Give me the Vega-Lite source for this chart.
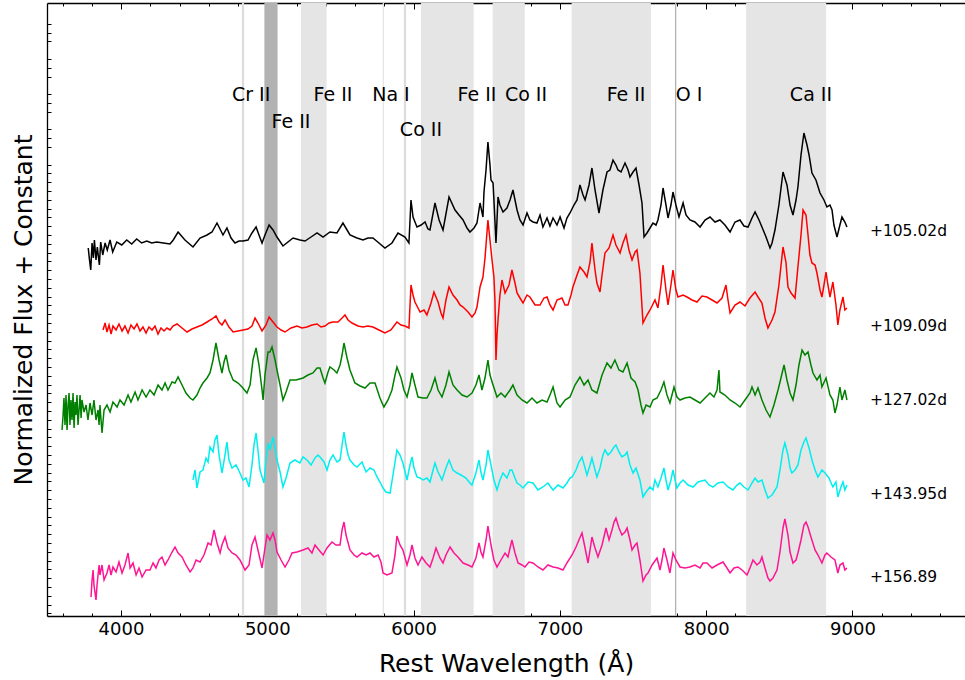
{
"$schema": "https://vega.github.io/schema/vega-lite/v6.json",
"width": 918, "height": 613,
"autosize": {"type": "none"},
"padding": {"left": 47, "top": 3, "right": 0, "bottom": 64},
"background": "white",
"config": {"view": {"stroke": null}, "font": "DejaVu Sans",
 "axis": {"grid": false, "domainColor": "#000", "tickColor": "#000", "labelColor": "#000", "titleColor": "#000", "labelFont": "DejaVu Sans", "titleFont": "DejaVu Sans", "titleFontWeight": "normal", "domainWidth": 1.3}},
"datasets": {
"black": [{"w":3776,"f":36.8},{"w":3783,"f":35.8},{"w":3793,"f":34.6},{"w":3802,"f":37.3},{"w":3811,"f":35.8},{"w":3818,"f":37.6},{"w":3829,"f":35.6},{"w":3838,"f":36.9},{"w":3852,"f":35.1},{"w":3861,"f":37.4},{"w":3875,"f":36.1},{"w":3891,"f":37.3},{"w":3906,"f":36.6},{"w":3925,"f":37.6},{"w":3943,"f":36.4},{"w":3971,"f":37.4},{"w":4005,"f":37.1},{"w":4039,"f":37.6},{"w":4073,"f":37.2},{"w":4107,"f":37.7},{"w":4141,"f":37.3},{"w":4176,"f":37.5},{"w":4210,"f":37.3},{"w":4244,"f":37.4},{"w":4289,"f":37.3},{"w":4335,"f":37.2},{"w":4357,"f":37.6},{"w":4390,"f":38.4},{"w":4437,"f":37.6},{"w":4492,"f":36.9},{"w":4540,"f":37.8},{"w":4588,"f":38.1},{"w":4622,"f":38.4},{"w":4656,"f":39.3},{"w":4697,"f":38.1},{"w":4724,"f":38.8},{"w":4752,"f":37.8},{"w":4779,"f":37.3},{"w":4807,"f":37.5},{"w":4834,"f":37.5},{"w":4868,"f":37.6},{"w":4895,"f":38.3},{"w":4923,"f":38.9},{"w":4943,"f":38.1},{"w":4964,"f":37.3},{"w":4984,"f":38.1},{"w":5012,"f":39.1},{"w":5039,"f":38.6},{"w":5066,"f":37.9},{"w":5107,"f":37.0},{"w":5141,"f":37.4},{"w":5176,"f":37.8},{"w":5223,"f":37.6},{"w":5258,"f":37.5},{"w":5299,"f":37.9},{"w":5340,"f":38.3},{"w":5381,"f":37.9},{"w":5428,"f":38.4},{"w":5476,"f":38.3},{"w":5517,"f":39.3},{"w":5545,"f":38.6},{"w":5565,"f":38.1},{"w":5613,"f":37.8},{"w":5654,"f":37.6},{"w":5688,"f":37.8},{"w":5722,"f":37.8},{"w":5763,"f":37.3},{"w":5804,"f":36.8},{"w":5852,"f":37.3},{"w":5893,"f":38.3},{"w":5941,"f":37.9},{"w":5968,"f":37.3},{"w":5982,"f":41.6},{"w":5996,"f":39.9},{"w":6023,"f":38.9},{"w":6051,"f":39.1},{"w":6078,"f":39.4},{"w":6098,"f":38.7},{"w":6112,"f":38.6},{"w":6146,"f":41.3},{"w":6174,"f":39.6},{"w":6201,"f":38.6},{"w":6242,"f":41.9},{"w":6283,"f":40.6},{"w":6310,"f":40.1},{"w":6338,"f":39.6},{"w":6365,"f":38.8},{"w":6385,"f":38.4},{"w":6413,"f":38.8},{"w":6433,"f":39.3},{"w":6454,"f":41.3},{"w":6474,"f":39.9},{"w":6481,"f":42.4},{"w":6495,"f":44.6},{"w":6508,"f":47.4},{"w":6522,"f":45.1},{"w":6529,"f":43.6},{"w":6543,"f":43.3},{"w":6549,"f":41.6},{"w":6563,"f":37.3},{"w":6577,"f":41.9},{"w":6590,"f":41.1},{"w":6611,"f":40.4},{"w":6638,"f":40.8},{"w":6659,"f":41.6},{"w":6679,"f":42.6},{"w":6707,"f":40.6},{"w":6727,"f":39.6},{"w":6748,"f":39.1},{"w":6775,"f":40.3},{"w":6795,"f":39.6},{"w":6816,"f":39.4},{"w":6843,"f":39.3},{"w":6864,"f":40.1},{"w":6884,"f":38.9},{"w":6912,"f":39.8},{"w":6932,"f":39.0},{"w":6953,"f":39.8},{"w":6980,"f":39.1},{"w":7001,"f":39.9},{"w":7028,"f":38.8},{"w":7048,"f":39.8},{"w":7069,"f":40.3},{"w":7096,"f":41.1},{"w":7117,"f":41.6},{"w":7137,"f":43.1},{"w":7158,"f":42.1},{"w":7172,"f":41.6},{"w":7199,"f":43.1},{"w":7219,"f":44.8},{"w":7240,"f":42.6},{"w":7267,"f":40.3},{"w":7294,"f":42.6},{"w":7322,"f":44.4},{"w":7342,"f":44.6},{"w":7363,"f":45.6},{"w":7383,"f":45.1},{"w":7397,"f":44.6},{"w":7418,"f":44.4},{"w":7445,"f":45.3},{"w":7466,"f":44.6},{"w":7479,"f":43.9},{"w":7500,"f":44.4},{"w":7520,"f":44.8},{"w":7541,"f":43.1},{"w":7561,"f":41.3},{"w":7575,"f":37.9},{"w":7595,"f":38.3},{"w":7616,"f":38.8},{"w":7636,"f":39.3},{"w":7657,"f":39.1},{"w":7670,"f":39.6},{"w":7691,"f":41.1},{"w":7705,"f":42.8},{"w":7725,"f":41.1},{"w":7739,"f":39.8},{"w":7759,"f":41.1},{"w":7773,"f":42.4},{"w":7793,"f":41.1},{"w":7814,"f":39.9},{"w":7842,"f":41.3},{"w":7862,"f":40.1},{"w":7889,"f":39.6},{"w":7923,"f":39.4},{"w":7958,"f":38.9},{"w":7992,"f":39.6},{"w":8026,"f":39.9},{"w":8060,"f":39.4},{"w":8094,"f":39.6},{"w":8128,"f":39.1},{"w":8163,"f":38.4},{"w":8197,"f":39.4},{"w":8231,"f":39.6},{"w":8258,"f":39.0},{"w":8286,"f":38.9},{"w":8313,"f":39.8},{"w":8334,"f":40.4},{"w":8361,"f":39.6},{"w":8381,"f":38.9},{"w":8409,"f":37.9},{"w":8436,"f":36.8},{"w":8450,"f":37.3},{"w":8470,"f":38.6},{"w":8497,"f":41.1},{"w":8525,"f":44.4},{"w":8552,"f":43.1},{"w":8573,"f":41.1},{"w":8593,"f":40.1},{"w":8614,"f":41.6},{"w":8627,"f":42.9},{"w":8648,"f":46.1},{"w":8668,"f":48.3},{"w":8689,"f":47.1},{"w":8703,"f":46.1},{"w":8723,"f":44.3},{"w":8750,"f":43.6},{"w":8778,"f":42.3},{"w":8805,"f":41.6},{"w":8825,"f":40.9},{"w":8846,"f":41.1},{"w":8860,"f":40.6},{"w":8873,"f":39.1},{"w":8894,"f":37.9},{"w":8914,"f":39.1},{"w":8928,"f":39.9},{"w":8948,"f":39.4},{"w":8962,"f":38.9}],
"red": [{"w":3877,"f":28.6},{"w":3891,"f":29.3},{"w":3904,"f":28.4},{"w":3918,"f":29.1},{"w":3932,"f":28.2},{"w":3945,"f":29.0},{"w":3966,"f":28.6},{"w":3986,"f":29.2},{"w":4007,"f":28.5},{"w":4027,"f":29.0},{"w":4048,"f":28.3},{"w":4068,"f":29.1},{"w":4089,"f":28.7},{"w":4109,"f":29.2},{"w":4130,"f":28.5},{"w":4150,"f":28.9},{"w":4171,"f":28.3},{"w":4191,"f":28.9},{"w":4212,"f":28.6},{"w":4232,"f":29.0},{"w":4253,"f":28.2},{"w":4273,"f":28.8},{"w":4294,"f":28.5},{"w":4314,"f":28.8},{"w":4335,"f":28.6},{"w":4355,"f":29.0},{"w":4383,"f":29.2},{"w":4417,"f":28.8},{"w":4451,"f":28.4},{"w":4485,"f":28.7},{"w":4519,"f":28.9},{"w":4554,"f":29.1},{"w":4588,"f":29.4},{"w":4622,"f":29.7},{"w":4649,"f":30.0},{"w":4670,"f":29.4},{"w":4690,"f":29.1},{"w":4711,"f":29.6},{"w":4738,"f":28.9},{"w":4766,"f":28.4},{"w":4800,"f":28.5},{"w":4834,"f":28.6},{"w":4868,"f":28.7},{"w":4895,"f":29.0},{"w":4916,"f":29.8},{"w":4936,"f":29.3},{"w":4964,"f":28.5},{"w":4991,"f":29.1},{"w":5012,"f":29.9},{"w":5039,"f":29.4},{"w":5066,"f":28.9},{"w":5094,"f":28.6},{"w":5121,"f":28.4},{"w":5162,"f":28.8},{"w":5203,"f":29.0},{"w":5237,"f":28.8},{"w":5271,"f":28.9},{"w":5305,"f":29.1},{"w":5340,"f":29.2},{"w":5367,"f":28.9},{"w":5394,"f":29.0},{"w":5422,"f":29.3},{"w":5449,"f":29.4},{"w":5483,"f":29.4},{"w":5511,"f":29.8},{"w":5531,"f":30.1},{"w":5552,"f":29.6},{"w":5579,"f":29.3},{"w":5620,"f":29.0},{"w":5654,"f":28.9},{"w":5688,"f":29.0},{"w":5722,"f":28.9},{"w":5763,"f":28.6},{"w":5804,"f":28.3},{"w":5845,"f":28.6},{"w":5886,"f":29.4},{"w":5914,"f":29.1},{"w":5941,"f":29.0},{"w":5968,"f":28.8},{"w":5982,"f":33.1},{"w":5996,"f":32.1},{"w":6009,"f":31.4},{"w":6030,"f":30.8},{"w":6044,"f":30.4},{"w":6071,"f":30.6},{"w":6091,"f":30.1},{"w":6119,"f":31.3},{"w":6139,"f":32.4},{"w":6167,"f":31.4},{"w":6187,"f":30.3},{"w":6201,"f":29.8},{"w":6221,"f":31.6},{"w":6242,"f":32.9},{"w":6269,"f":32.1},{"w":6297,"f":31.6},{"w":6317,"f":31.1},{"w":6338,"f":30.9},{"w":6372,"f":30.4},{"w":6399,"f":29.9},{"w":6420,"f":30.3},{"w":6433,"f":30.9},{"w":6454,"f":32.9},{"w":6474,"f":33.9},{"w":6488,"f":35.8},{"w":6508,"f":39.6},{"w":6522,"f":37.6},{"w":6536,"f":35.6},{"w":6549,"f":33.9},{"w":6556,"f":31.6},{"w":6563,"f":25.6},{"w":6570,"f":28.1},{"w":6577,"f":29.6},{"w":6590,"f":32.1},{"w":6604,"f":33.6},{"w":6625,"f":32.3},{"w":6652,"f":33.1},{"w":6672,"f":34.6},{"w":6693,"f":33.3},{"w":6707,"f":32.3},{"w":6727,"f":31.8},{"w":6748,"f":31.3},{"w":6775,"f":32.1},{"w":6795,"f":31.9},{"w":6830,"f":31.1},{"w":6864,"f":31.1},{"w":6891,"f":31.8},{"w":6912,"f":31.9},{"w":6932,"f":31.1},{"w":6953,"f":30.6},{"w":6980,"f":31.6},{"w":7014,"f":31.8},{"w":7035,"f":31.1},{"w":7055,"f":31.1},{"w":7076,"f":32.1},{"w":7089,"f":32.9},{"w":7117,"f":34.1},{"w":7137,"f":34.9},{"w":7165,"f":34.4},{"w":7185,"f":33.9},{"w":7206,"f":35.4},{"w":7219,"f":37.3},{"w":7240,"f":34.6},{"w":7253,"f":33.3},{"w":7274,"f":32.4},{"w":7288,"f":34.1},{"w":7308,"f":36.3},{"w":7336,"f":36.8},{"w":7363,"f":38.1},{"w":7383,"f":37.1},{"w":7411,"f":36.3},{"w":7431,"f":37.3},{"w":7452,"f":38.1},{"w":7472,"f":36.6},{"w":7493,"f":35.6},{"w":7514,"f":36.4},{"w":7527,"f":36.6},{"w":7547,"f":34.3},{"w":7568,"f":29.3},{"w":7595,"f":30.1},{"w":7616,"f":30.6},{"w":7650,"f":31.6},{"w":7670,"f":30.8},{"w":7691,"f":33.1},{"w":7705,"f":35.1},{"w":7725,"f":32.6},{"w":7739,"f":31.1},{"w":7759,"f":33.1},{"w":7773,"f":34.6},{"w":7793,"f":32.6},{"w":7807,"f":31.9},{"w":7842,"f":32.1},{"w":7869,"f":31.9},{"w":7903,"f":31.6},{"w":7937,"f":31.4},{"w":7971,"f":32.0},{"w":8005,"f":31.9},{"w":8040,"f":31.6},{"w":8074,"f":31.3},{"w":8108,"f":31.8},{"w":8135,"f":33.1},{"w":8149,"f":31.6},{"w":8163,"f":30.3},{"w":8197,"f":31.1},{"w":8231,"f":31.4},{"w":8265,"f":31.0},{"w":8299,"f":31.8},{"w":8334,"f":32.4},{"w":8354,"f":31.9},{"w":8381,"f":31.3},{"w":8402,"f":29.8},{"w":8422,"f":28.8},{"w":8450,"f":29.6},{"w":8470,"f":30.4},{"w":8497,"f":33.1},{"w":8525,"f":36.9},{"w":8545,"f":35.4},{"w":8559,"f":32.9},{"w":8580,"f":32.3},{"w":8607,"f":31.8},{"w":8627,"f":34.9},{"w":8648,"f":38.1},{"w":8662,"f":40.6},{"w":8682,"f":40.1},{"w":8696,"f":38.1},{"w":8709,"f":36.1},{"w":8723,"f":35.3},{"w":8744,"f":35.1},{"w":8757,"f":34.3},{"w":8778,"f":32.6},{"w":8791,"f":31.9},{"w":8805,"f":33.1},{"w":8819,"f":34.4},{"w":8832,"f":33.1},{"w":8846,"f":31.9},{"w":8866,"f":33.4},{"w":8887,"f":31.1},{"w":8900,"f":29.1},{"w":8914,"f":30.6},{"w":8935,"f":31.9},{"w":8948,"f":30.6},{"w":8962,"f":30.8}],
"green": [{"w":3597,"f":18.6},{"w":3604,"f":20.1},{"w":3610,"f":21.8},{"w":3617,"f":19.1},{"w":3624,"f":22.1},{"w":3631,"f":18.6},{"w":3638,"f":21.1},{"w":3645,"f":22.3},{"w":3651,"f":19.1},{"w":3658,"f":21.6},{"w":3665,"f":19.6},{"w":3672,"f":22.3},{"w":3679,"f":18.8},{"w":3686,"f":21.4},{"w":3692,"f":20.1},{"w":3699,"f":22.1},{"w":3706,"f":19.1},{"w":3720,"f":22.1},{"w":3727,"f":19.8},{"w":3733,"f":21.6},{"w":3747,"f":20.4},{"w":3761,"f":21.1},{"w":3774,"f":19.6},{"w":3788,"f":21.3},{"w":3802,"f":20.1},{"w":3815,"f":21.6},{"w":3829,"f":19.6},{"w":3843,"f":20.6},{"w":3850,"f":19.1},{"w":3856,"f":21.1},{"w":3870,"f":18.3},{"w":3884,"f":20.6},{"w":3904,"f":21.1},{"w":3925,"f":20.4},{"w":3945,"f":21.4},{"w":3973,"f":20.9},{"w":3993,"f":21.6},{"w":4021,"f":21.1},{"w":4048,"f":22.1},{"w":4068,"f":21.4},{"w":4096,"f":22.4},{"w":4116,"f":21.6},{"w":4144,"f":22.6},{"w":4171,"f":21.9},{"w":4198,"f":22.6},{"w":4226,"f":22.1},{"w":4253,"f":23.1},{"w":4280,"f":22.6},{"w":4301,"f":23.3},{"w":4321,"f":22.6},{"w":4349,"f":23.4},{"w":4369,"f":23.3},{"w":4390,"f":23.9},{"w":4417,"f":23.1},{"w":4444,"f":22.3},{"w":4472,"f":21.8},{"w":4492,"f":21.6},{"w":4519,"f":22.1},{"w":4540,"f":22.8},{"w":4560,"f":23.3},{"w":4588,"f":23.8},{"w":4608,"f":24.3},{"w":4629,"f":25.6},{"w":4649,"f":27.3},{"w":4670,"f":25.6},{"w":4690,"f":24.3},{"w":4704,"f":25.4},{"w":4718,"f":26.1},{"w":4738,"f":24.6},{"w":4766,"f":23.6},{"w":4800,"f":23.3},{"w":4827,"f":22.9},{"w":4861,"f":22.3},{"w":4882,"f":23.1},{"w":4902,"f":25.6},{"w":4923,"f":26.8},{"w":4943,"f":25.1},{"w":4964,"f":22.6},{"w":4971,"f":21.6},{"w":4984,"f":24.1},{"w":5005,"f":26.4},{"w":5018,"f":26.4},{"w":5032,"f":26.9},{"w":5053,"f":25.6},{"w":5066,"f":24.6},{"w":5087,"f":23.1},{"w":5107,"f":21.6},{"w":5128,"f":22.4},{"w":5155,"f":23.6},{"w":5196,"f":23.6},{"w":5244,"f":23.8},{"w":5278,"f":24.1},{"w":5312,"f":24.3},{"w":5340,"f":24.8},{"w":5360,"f":24.8},{"w":5381,"f":23.8},{"w":5394,"f":23.3},{"w":5415,"f":24.4},{"w":5428,"f":24.9},{"w":5456,"f":24.6},{"w":5476,"f":24.3},{"w":5497,"f":25.1},{"w":5511,"f":26.1},{"w":5524,"f":27.3},{"w":5545,"f":25.8},{"w":5565,"f":24.6},{"w":5586,"f":23.8},{"w":5599,"f":23.3},{"w":5634,"f":23.0},{"w":5668,"f":22.8},{"w":5702,"f":23.3},{"w":5736,"f":23.3},{"w":5770,"f":21.8},{"w":5797,"f":20.9},{"w":5825,"f":21.6},{"w":5852,"f":22.6},{"w":5873,"f":24.1},{"w":5886,"f":24.9},{"w":5914,"f":23.8},{"w":5934,"f":22.6},{"w":5955,"f":21.9},{"w":5975,"f":23.1},{"w":5989,"f":24.3},{"w":6009,"f":23.1},{"w":6030,"f":21.9},{"w":6064,"f":21.8},{"w":6091,"f":21.8},{"w":6119,"f":22.6},{"w":6146,"f":23.8},{"w":6167,"f":22.6},{"w":6194,"f":21.9},{"w":6221,"f":23.1},{"w":6242,"f":24.4},{"w":6269,"f":23.1},{"w":6297,"f":22.6},{"w":6331,"f":22.1},{"w":6365,"f":21.9},{"w":6399,"f":22.3},{"w":6426,"f":23.1},{"w":6447,"f":24.1},{"w":6467,"f":22.6},{"w":6488,"f":23.8},{"w":6508,"f":25.6},{"w":6522,"f":24.1},{"w":6543,"f":23.1},{"w":6570,"f":21.9},{"w":6597,"f":22.3},{"w":6625,"f":21.9},{"w":6659,"f":22.6},{"w":6679,"f":23.1},{"w":6707,"f":22.1},{"w":6741,"f":21.6},{"w":6775,"f":21.3},{"w":6809,"f":21.8},{"w":6843,"f":21.3},{"w":6878,"f":21.6},{"w":6912,"f":21.4},{"w":6932,"f":22.1},{"w":6953,"f":22.9},{"w":6980,"f":21.3},{"w":7001,"f":20.9},{"w":7035,"f":21.6},{"w":7069,"f":21.9},{"w":7103,"f":23.1},{"w":7137,"f":23.9},{"w":7165,"f":23.1},{"w":7192,"f":23.6},{"w":7219,"f":22.6},{"w":7253,"f":22.3},{"w":7288,"f":24.1},{"w":7322,"f":25.3},{"w":7349,"f":24.8},{"w":7376,"f":25.6},{"w":7404,"f":24.6},{"w":7431,"f":24.4},{"w":7459,"f":25.3},{"w":7486,"f":23.8},{"w":7514,"f":23.4},{"w":7534,"f":22.6},{"w":7554,"f":21.1},{"w":7568,"f":20.3},{"w":7589,"f":21.1},{"w":7616,"f":20.9},{"w":7636,"f":21.6},{"w":7664,"f":21.8},{"w":7691,"f":22.6},{"w":7711,"f":23.4},{"w":7732,"f":22.1},{"w":7752,"f":21.3},{"w":7780,"f":22.9},{"w":7800,"f":21.9},{"w":7821,"f":21.6},{"w":7855,"f":21.8},{"w":7889,"f":21.9},{"w":7923,"f":21.6},{"w":7958,"f":21.3},{"w":7992,"f":21.8},{"w":8026,"f":22.3},{"w":8053,"f":21.9},{"w":8074,"f":22.6},{"w":8087,"f":24.6},{"w":8094,"f":22.4},{"w":8128,"f":22.1},{"w":8163,"f":21.6},{"w":8197,"f":21.3},{"w":8231,"f":20.9},{"w":8265,"f":21.6},{"w":8299,"f":22.3},{"w":8313,"f":22.9},{"w":8334,"f":22.1},{"w":8354,"f":22.8},{"w":8381,"f":21.6},{"w":8409,"f":20.6},{"w":8436,"f":19.9},{"w":8463,"f":21.1},{"w":8491,"f":22.6},{"w":8511,"f":23.8},{"w":8532,"f":25.1},{"w":8552,"f":23.6},{"w":8573,"f":22.3},{"w":8593,"f":21.6},{"w":8614,"f":23.1},{"w":8634,"f":25.1},{"w":8655,"f":26.6},{"w":8675,"f":26.1},{"w":8696,"f":26.4},{"w":8716,"f":25.1},{"w":8730,"f":24.3},{"w":8757,"f":23.6},{"w":8778,"f":24.1},{"w":8791,"f":22.9},{"w":8819,"f":23.8},{"w":8846,"f":22.1},{"w":8866,"f":21.6},{"w":8880,"f":20.3},{"w":8894,"f":21.1},{"w":8914,"f":22.9},{"w":8928,"f":21.6},{"w":8948,"f":22.6},{"w":8962,"f":21.6}],
"cyan": [{"w":4492,"f":13.6},{"w":4506,"f":14.6},{"w":4519,"f":12.8},{"w":4540,"f":14.4},{"w":4560,"f":14.6},{"w":4581,"f":15.8},{"w":4595,"f":15.4},{"w":4608,"f":16.9},{"w":4629,"f":16.4},{"w":4642,"f":17.6},{"w":4656,"f":18.1},{"w":4670,"f":16.1},{"w":4690,"f":14.3},{"w":4711,"f":16.1},{"w":4724,"f":17.4},{"w":4738,"f":15.6},{"w":4759,"f":14.8},{"w":4786,"f":15.1},{"w":4813,"f":14.3},{"w":4834,"f":13.6},{"w":4854,"f":13.8},{"w":4875,"f":12.9},{"w":4895,"f":15.1},{"w":4909,"f":17.1},{"w":4923,"f":18.3},{"w":4936,"f":16.6},{"w":4950,"f":14.6},{"w":4964,"f":13.9},{"w":4977,"f":13.3},{"w":4991,"f":15.6},{"w":5005,"f":17.3},{"w":5018,"f":16.6},{"w":5039,"f":17.9},{"w":5053,"f":16.8},{"w":5066,"f":15.6},{"w":5087,"f":14.4},{"w":5107,"f":12.9},{"w":5128,"f":13.8},{"w":5155,"f":15.3},{"w":5189,"f":15.6},{"w":5223,"f":15.3},{"w":5244,"f":15.9},{"w":5271,"f":15.6},{"w":5299,"f":15.1},{"w":5326,"f":15.8},{"w":5346,"f":16.1},{"w":5360,"f":15.9},{"w":5388,"f":15.4},{"w":5408,"f":14.6},{"w":5428,"f":15.6},{"w":5449,"f":16.1},{"w":5476,"f":15.4},{"w":5497,"f":15.6},{"w":5511,"f":17.1},{"w":5524,"f":18.4},{"w":5538,"f":17.1},{"w":5552,"f":16.1},{"w":5565,"f":15.6},{"w":5593,"f":15.1},{"w":5613,"f":14.9},{"w":5647,"f":15.4},{"w":5675,"f":14.4},{"w":5702,"f":14.8},{"w":5729,"f":14.6},{"w":5750,"f":13.9},{"w":5770,"f":13.4},{"w":5791,"f":12.8},{"w":5811,"f":12.4},{"w":5839,"f":12.3},{"w":5859,"f":14.1},{"w":5873,"f":15.4},{"w":5886,"f":16.6},{"w":5907,"f":16.1},{"w":5927,"f":15.3},{"w":5955,"f":13.6},{"w":5975,"f":15.1},{"w":5989,"f":15.9},{"w":6003,"f":14.8},{"w":6023,"f":13.9},{"w":6044,"f":13.8},{"w":6064,"f":13.6},{"w":6091,"f":13.8},{"w":6112,"f":13.4},{"w":6133,"f":14.6},{"w":6146,"f":15.3},{"w":6167,"f":14.4},{"w":6194,"f":13.6},{"w":6221,"f":14.8},{"w":6242,"f":15.6},{"w":6269,"f":14.6},{"w":6297,"f":14.3},{"w":6324,"f":14.1},{"w":6358,"f":13.8},{"w":6379,"f":13.4},{"w":6399,"f":13.1},{"w":6426,"f":14.3},{"w":6447,"f":15.6},{"w":6460,"f":14.4},{"w":6474,"f":13.6},{"w":6495,"f":15.1},{"w":6508,"f":16.6},{"w":6529,"f":15.1},{"w":6549,"f":13.6},{"w":6570,"f":12.6},{"w":6590,"f":13.6},{"w":6611,"f":14.3},{"w":6638,"f":13.8},{"w":6659,"f":14.6},{"w":6672,"f":14.6},{"w":6693,"f":13.8},{"w":6707,"f":13.3},{"w":6727,"f":13.1},{"w":6748,"f":12.8},{"w":6782,"f":13.4},{"w":6816,"f":13.3},{"w":6850,"f":12.6},{"w":6884,"f":12.9},{"w":6918,"f":13.3},{"w":6953,"f":12.6},{"w":6987,"f":13.1},{"w":7021,"f":12.8},{"w":7048,"f":13.3},{"w":7069,"f":13.8},{"w":7083,"f":13.9},{"w":7110,"f":14.6},{"w":7130,"f":15.4},{"w":7151,"f":15.9},{"w":7172,"f":14.8},{"w":7185,"f":14.1},{"w":7206,"f":15.1},{"w":7219,"f":15.8},{"w":7240,"f":14.6},{"w":7253,"f":13.9},{"w":7274,"f":14.8},{"w":7294,"f":16.1},{"w":7308,"f":16.6},{"w":7329,"f":16.1},{"w":7349,"f":16.4},{"w":7370,"f":16.9},{"w":7383,"f":17.1},{"w":7404,"f":16.4},{"w":7424,"f":15.9},{"w":7445,"f":16.1},{"w":7459,"f":16.4},{"w":7479,"f":15.1},{"w":7500,"f":14.3},{"w":7520,"f":14.8},{"w":7547,"f":13.6},{"w":7568,"f":11.9},{"w":7589,"f":12.4},{"w":7616,"f":12.9},{"w":7636,"f":12.6},{"w":7650,"f":13.6},{"w":7670,"f":12.9},{"w":7691,"f":13.8},{"w":7711,"f":14.8},{"w":7725,"f":13.6},{"w":7739,"f":12.6},{"w":7759,"f":13.6},{"w":7773,"f":14.6},{"w":7787,"f":13.6},{"w":7800,"f":12.8},{"w":7821,"f":13.3},{"w":7842,"f":13.6},{"w":7876,"f":13.1},{"w":7910,"f":12.9},{"w":7944,"f":13.4},{"w":7992,"f":13.6},{"w":8019,"f":13.1},{"w":8046,"f":12.9},{"w":8081,"f":13.3},{"w":8115,"f":13.4},{"w":8149,"f":12.9},{"w":8183,"f":12.6},{"w":8210,"f":13.1},{"w":8231,"f":13.3},{"w":8258,"f":12.9},{"w":8286,"f":12.6},{"w":8313,"f":13.3},{"w":8334,"f":13.8},{"w":8354,"f":13.4},{"w":8381,"f":13.6},{"w":8402,"f":12.6},{"w":8422,"f":11.8},{"w":8450,"f":12.1},{"w":8484,"f":12.9},{"w":8504,"f":14.6},{"w":8525,"f":16.6},{"w":8538,"f":17.3},{"w":8559,"f":16.1},{"w":8573,"f":14.8},{"w":8586,"f":14.3},{"w":8607,"f":14.6},{"w":8627,"f":15.1},{"w":8648,"f":16.6},{"w":8668,"f":17.4},{"w":8682,"f":17.8},{"w":8703,"f":16.8},{"w":8723,"f":15.6},{"w":8744,"f":14.6},{"w":8764,"f":13.9},{"w":8791,"f":14.6},{"w":8812,"f":14.3},{"w":8839,"f":13.8},{"w":8866,"f":12.9},{"w":8887,"f":13.4},{"w":8900,"f":11.9},{"w":8921,"f":12.9},{"w":8935,"f":13.4},{"w":8948,"f":12.6},{"w":8962,"f":13.1}],
"pink": [{"w":3795,"f":1.9},{"w":3802,"f":3.6},{"w":3809,"f":4.6},{"w":3815,"f":3.1},{"w":3829,"f":1.6},{"w":3836,"f":3.1},{"w":3850,"f":5.1},{"w":3856,"f":4.1},{"w":3870,"f":5.1},{"w":3884,"f":3.6},{"w":3904,"f":4.3},{"w":3918,"f":5.1},{"w":3932,"f":4.1},{"w":3945,"f":4.9},{"w":3966,"f":4.4},{"w":3986,"f":5.4},{"w":4007,"f":4.3},{"w":4027,"f":5.1},{"w":4048,"f":6.3},{"w":4062,"f":4.8},{"w":4082,"f":5.3},{"w":4103,"f":4.1},{"w":4123,"f":4.8},{"w":4144,"f":3.9},{"w":4171,"f":4.6},{"w":4198,"f":4.6},{"w":4219,"f":5.3},{"w":4239,"f":4.8},{"w":4260,"f":5.6},{"w":4280,"f":5.9},{"w":4301,"f":5.1},{"w":4321,"f":5.6},{"w":4349,"f":6.4},{"w":4369,"f":6.9},{"w":4390,"f":6.3},{"w":4417,"f":5.9},{"w":4444,"f":5.1},{"w":4472,"f":4.4},{"w":4492,"f":4.8},{"w":4513,"f":5.6},{"w":4540,"f":5.4},{"w":4567,"f":6.1},{"w":4595,"f":7.3},{"w":4615,"f":7.1},{"w":4636,"f":8.6},{"w":4656,"f":7.3},{"w":4677,"f":6.3},{"w":4690,"f":7.1},{"w":4711,"f":7.9},{"w":4731,"f":6.8},{"w":4759,"f":6.3},{"w":4786,"f":6.1},{"w":4813,"f":5.6},{"w":4848,"f":4.6},{"w":4875,"f":5.1},{"w":4895,"f":7.1},{"w":4916,"f":7.9},{"w":4936,"f":6.6},{"w":4964,"f":4.8},{"w":4984,"f":6.8},{"w":4998,"f":8.1},{"w":5018,"f":7.6},{"w":5039,"f":8.3},{"w":5053,"f":7.6},{"w":5066,"f":6.4},{"w":5094,"f":5.6},{"w":5121,"f":4.9},{"w":5148,"f":5.6},{"w":5169,"f":6.3},{"w":5203,"f":6.4},{"w":5244,"f":6.6},{"w":5278,"f":6.8},{"w":5305,"f":6.3},{"w":5326,"f":7.1},{"w":5353,"f":6.6},{"w":5381,"f":6.1},{"w":5408,"f":6.8},{"w":5442,"f":7.4},{"w":5469,"f":7.1},{"w":5497,"f":7.1},{"w":5511,"f":8.6},{"w":5524,"f":9.4},{"w":5538,"f":8.1},{"w":5565,"f":6.6},{"w":5593,"f":6.1},{"w":5613,"f":5.9},{"w":5647,"f":6.3},{"w":5675,"f":6.1},{"w":5702,"f":6.3},{"w":5729,"f":5.9},{"w":5757,"f":6.1},{"w":5777,"f":5.4},{"w":5791,"f":4.3},{"w":5818,"f":4.1},{"w":5852,"f":4.3},{"w":5873,"f":6.1},{"w":5886,"f":8.0},{"w":5907,"f":7.1},{"w":5927,"f":6.6},{"w":5955,"f":5.1},{"w":5975,"f":6.1},{"w":5989,"f":7.1},{"w":6009,"f":5.8},{"w":6030,"f":5.1},{"w":6057,"f":5.9},{"w":6085,"f":5.3},{"w":6112,"f":4.9},{"w":6133,"f":5.8},{"w":6153,"f":6.8},{"w":6180,"f":5.8},{"w":6201,"f":5.3},{"w":6221,"f":6.1},{"w":6249,"f":6.9},{"w":6276,"f":6.3},{"w":6303,"f":5.9},{"w":6338,"f":5.3},{"w":6372,"f":5.1},{"w":6399,"f":4.9},{"w":6426,"f":5.8},{"w":6447,"f":7.3},{"w":6460,"f":6.4},{"w":6474,"f":5.9},{"w":6495,"f":7.6},{"w":6508,"f":9.0},{"w":6529,"f":7.1},{"w":6549,"f":5.6},{"w":6570,"f":4.9},{"w":6597,"f":5.6},{"w":6625,"f":6.3},{"w":6645,"f":5.9},{"w":6672,"f":7.6},{"w":6693,"f":6.3},{"w":6714,"f":5.3},{"w":6741,"f":5.1},{"w":6761,"f":4.9},{"w":6789,"f":5.4},{"w":6816,"f":5.3},{"w":6850,"f":4.9},{"w":6884,"f":4.6},{"w":6918,"f":5.1},{"w":6953,"f":4.9},{"w":6987,"f":4.8},{"w":7021,"f":4.6},{"w":7048,"f":5.3},{"w":7083,"f":6.1},{"w":7110,"f":6.9},{"w":7130,"f":7.6},{"w":7151,"f":8.3},{"w":7172,"f":6.8},{"w":7192,"f":5.3},{"w":7206,"f":6.6},{"w":7219,"f":7.9},{"w":7240,"f":6.8},{"w":7260,"f":5.9},{"w":7288,"f":7.1},{"w":7315,"f":8.8},{"w":7336,"f":7.6},{"w":7356,"f":8.6},{"w":7370,"f":9.4},{"w":7383,"f":9.8},{"w":7404,"f":8.8},{"w":7424,"f":8.1},{"w":7445,"f":8.4},{"w":7459,"f":8.8},{"w":7479,"f":7.6},{"w":7493,"f":6.6},{"w":7514,"f":7.1},{"w":7527,"f":7.3},{"w":7547,"f":5.6},{"w":7568,"f":3.5},{"w":7589,"f":4.1},{"w":7602,"f":4.3},{"w":7630,"f":5.1},{"w":7664,"f":5.8},{"w":7684,"f":4.6},{"w":7698,"f":5.6},{"w":7711,"f":6.8},{"w":7732,"f":5.6},{"w":7752,"f":4.3},{"w":7773,"f":6.3},{"w":7793,"f":5.6},{"w":7821,"f":4.9},{"w":7855,"f":4.8},{"w":7889,"f":4.9},{"w":7923,"f":5.1},{"w":7958,"f":4.8},{"w":7978,"f":5.3},{"w":8005,"f":5.3},{"w":8040,"f":4.8},{"w":8074,"f":5.1},{"w":8115,"f":5.4},{"w":8142,"f":4.8},{"w":8163,"f":4.3},{"w":8190,"f":4.8},{"w":8217,"f":4.9},{"w":8245,"f":4.6},{"w":8279,"f":4.1},{"w":8299,"f":4.8},{"w":8320,"f":5.6},{"w":8347,"f":5.1},{"w":8368,"f":5.4},{"w":8381,"f":5.9},{"w":8402,"f":4.8},{"w":8422,"f":3.8},{"w":8436,"f":3.5},{"w":8456,"f":3.8},{"w":8484,"f":4.6},{"w":8504,"f":6.4},{"w":8525,"f":8.8},{"w":8538,"f":9.7},{"w":8559,"f":8.1},{"w":8573,"f":6.4},{"w":8593,"f":5.3},{"w":8614,"f":5.6},{"w":8627,"f":6.3},{"w":8648,"f":7.6},{"w":8668,"f":9.1},{"w":8682,"f":9.4},{"w":8696,"f":8.9},{"w":8716,"f":7.9},{"w":8744,"f":6.6},{"w":8764,"f":6.1},{"w":8791,"f":5.3},{"w":8812,"f":6.1},{"w":8825,"f":6.3},{"w":8853,"f":5.9},{"w":8880,"f":5.6},{"w":8900,"f":4.3},{"w":8914,"f":5.1},{"w":8935,"f":5.3},{"w":8948,"f":4.6},{"w":8962,"f":4.8}]
},
"layer": [
{"data": {"values": [{"lo":4980,"hi":5070,"shade":"dark"},{"lo":5230,"hi":5405,"shade":"light"},{"lo":6050,"hi":6410,"shade":"light"},{"lo":6540,"hi":6760,"shade":"light"},{"lo":7080,"hi":7622,"shade":"light"},{"lo":8273,"hi":8820,"shade":"light"}]},
 "mark": {"type": "rect"},
 "encoding": {
  "x": {"field": "lo", "type": "quantitative", "scale": {"domain": [3494, 9769], "nice": false, "zero": false},
   "axis": {"orient": "bottom", "values": [4000,5000,6000,7000,8000,9000], "format": "d", "tickSize": -6, "tickWidth": 1, "labelFontSize": 18, "labelPadding": 10, "title": "Rest Wavelength (Å)", "titleFontSize": 25, "titlePadding": 13}},
  "x2": {"field": "hi"},
  "color": {"field": "shade", "type": "nominal", "scale": {"domain": ["light","dark"], "range": ["#e5e5e5","#b2b2b2"]}, "legend": null}
 }},
{"data": {"values": [{"w":4834},{"w":5941}]},
 "mark": {"type": "rule", "color": "#dcdcdc", "strokeWidth": 2.2},
 "encoding": {"x": {"field": "w", "type": "quantitative", "scale": {"domain": [3494, 9769], "nice": false, "zero": false},
   "axis": {"orient": "bottom", "values": [3600,3800,4200,4400,4600,4800,5200,5400,5600,5800,6200,6400,6600,6800,7200,7400,7600,7800,8200,8400,8600,8800,9200,9400,9600], "tickSize": -3, "tickWidth": 1, "labels": false, "domain": false, "title": null}}}},
{"data": {"values": [{"w":5793,"ion":"Na I"},{"w":7791,"ion":"O I"}]},
 "mark": {"type": "rule", "strokeWidth": 1.3},
 "encoding": {"x": {"field": "w", "type": "quantitative", "scale": {"domain": [3494, 9769], "nice": false, "zero": false}, "axis": null},
  "color": {"field": "ion", "type": "nominal", "scale": {"domain": ["Na I","O I"], "range": ["#c4c4c4","#9a9a9a"]}, "legend": null}}},
{"data": {"name": "black"},
 "mark": {"type": "line", "color": "#000000", "strokeWidth": 1.5},
 "encoding": {"x": {"field": "w", "type": "quantitative", "scale": {"domain": [3494, 9769], "nice": false, "zero": false},
   "axis": {"orient": "top", "values": [4000,5000,6000,7000,8000,9000], "tickSize": -6, "tickWidth": 1, "labels": false, "title": null}},
  "y": {"field": "f", "type": "quantitative", "scale": {"domain": [0, 61.3], "nice": false, "zero": false},
   "axis": {"orient": "left", "values": [0.26,1.14,2.02,2.9,3.78,4.66,5.54,6.42,7.3,8.18,9.06,9.94,10.82,11.7,12.58,13.46,14.34,15.22,16.1,16.98,17.86,18.74,19.62,20.5,21.38,22.26,23.14,24.02,24.9,25.78,26.66,27.54,28.42,29.3,30.18,31.06,31.94,32.82,33.7,34.58,35.46,36.34,37.22,38.1,38.98,39.86,40.74,41.62,42.5,43.38,44.26,45.14,46.9,47.78,48.66,50.42,51.3,52.18,53.94,54.82,55.7,57.46,58.34,59.22], "tickSize": -4, "tickWidth": 1, "labels": false, "title": "Normalized Flux + Constant", "titleFontSize": 25, "titlePadding": 10}}}},
{"data": {"name": "red"}, "mark": {"type": "line", "color": "#ff0000", "strokeWidth": 1.5},
 "encoding": {"x": {"field": "w", "type": "quantitative", "scale": {"domain": [3494, 9769], "nice": false, "zero": false}, "axis": null},
  "y": {"field": "f", "type": "quantitative", "scale": {"domain": [0, 61.3], "nice": false, "zero": false}, "axis": null}}},
{"data": {"name": "green"}, "mark": {"type": "line", "color": "#008000", "strokeWidth": 1.5},
 "encoding": {"x": {"field": "w", "type": "quantitative", "scale": {"domain": [3494, 9769], "nice": false, "zero": false}, "axis": null},
  "y": {"field": "f", "type": "quantitative", "scale": {"domain": [0, 61.3], "nice": false, "zero": false}, "axis": null}}},
{"data": {"name": "cyan"}, "mark": {"type": "line", "color": "#00eeee", "strokeWidth": 1.5},
 "encoding": {"x": {"field": "w", "type": "quantitative", "scale": {"domain": [3494, 9769], "nice": false, "zero": false}, "axis": null},
  "y": {"field": "f", "type": "quantitative", "scale": {"domain": [0, 61.3], "nice": false, "zero": false}, "axis": null}}},
{"data": {"name": "pink"}, "mark": {"type": "line", "color": "#ff1493", "strokeWidth": 1.5},
 "encoding": {"x": {"field": "w", "type": "quantitative", "scale": {"domain": [3494, 9769], "nice": false, "zero": false}, "axis": null},
  "y": {"field": "f", "type": "quantitative", "scale": {"domain": [0, 61.3], "nice": false, "zero": false}, "axis": null}}},
{"data": {"values": [{"t":"Cr II","w":4889,"f":52.1},{"t":"Fe II","w":5162,"f":49.4},{"t":"Fe II","w":5449,"f":52.1},{"t":"Na I","w":5845,"f":52.1},{"t":"Co II","w":6050,"f":48.6},{"t":"Fe II","w":6433,"f":52.1},{"t":"Co II","w":6768,"f":52.1},{"t":"Fe II","w":7452,"f":52.1},{"t":"O I","w":7882,"f":52.1},{"t":"Ca II","w":8716,"f":52.1}]},
 "mark": {"type": "text", "fontSize": 19, "font": "DejaVu Sans", "align": "center", "baseline": "middle", "color": "#000"},
 "encoding": {"x": {"field": "w", "type": "quantitative", "scale": {"domain": [3494, 9769], "nice": false, "zero": false},
   "axis": {"orient": "top", "values": [3600,3800,4200,4400,4600,4800,5200,5400,5600,5800,6200,6400,6600,6800,7200,7400,7600,7800,8200,8400,8600,8800,9200,9400,9600], "tickSize": -3, "tickWidth": 1, "labels": false, "domain": false, "title": null}},
  "y": {"field": "f", "type": "quantitative", "scale": {"domain": [0, 61.3], "nice": false, "zero": false}, "axis": null},
  "text": {"field": "t"}}},
{"data": {"values": [{"t":"+105.02d","w":9119,"f":38.5},{"t":"+109.09d","w":9119,"f":29.0},{"t":"+127.02d","w":9119,"f":21.6},{"t":"+143.95d","w":9119,"f":12.2},{"t":"+156.89","w":9119,"f":3.9}]},
 "mark": {"type": "text", "fontSize": 15.5, "font": "DejaVu Sans", "align": "left", "baseline": "middle", "color": "#000"},
 "encoding": {"x": {"field": "w", "type": "quantitative", "scale": {"domain": [3494, 9769], "nice": false, "zero": false}, "axis": null},
  "y": {"field": "f", "type": "quantitative", "scale": {"domain": [0, 61.3], "nice": false, "zero": false}, "axis": null},
  "text": {"field": "t"}}}
],
"resolve": {"axis": {"x": "independent", "y": "independent"}}
}
